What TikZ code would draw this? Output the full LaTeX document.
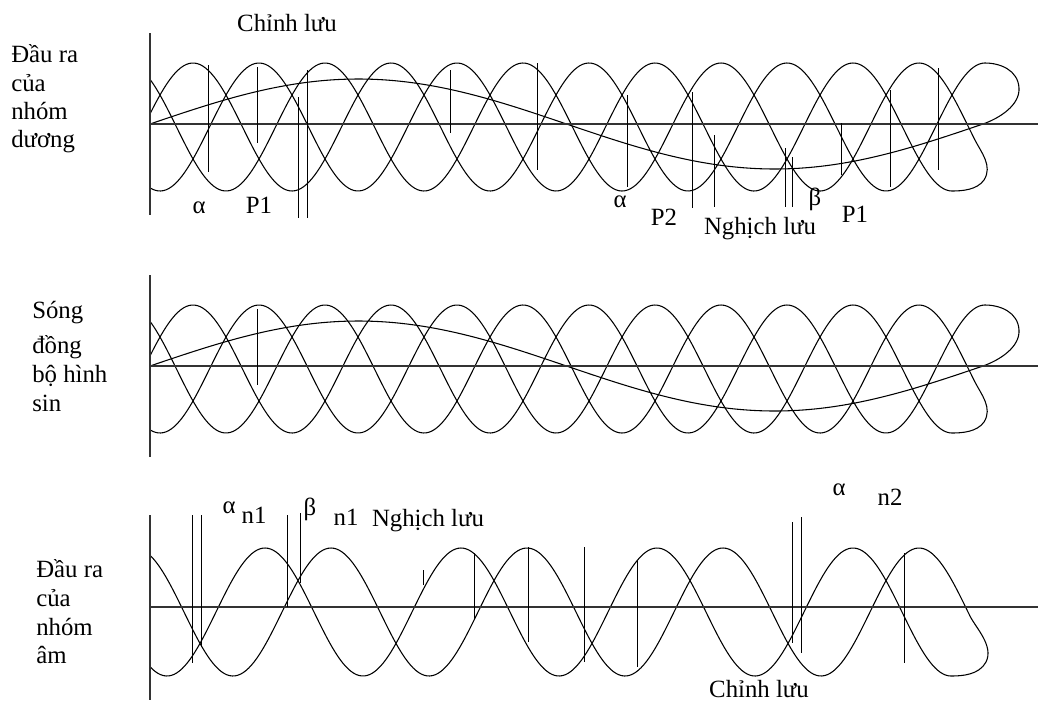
\documentclass[tikz,border=0pt]{standalone}
\usepackage{fontspec}
\setmainfont{Liberation Serif}
\begin{document}
\begin{tikzpicture}[x=0.75pt,y=-0.75pt,
  wave/.style={line width=0.8pt,black},
  axisline/.style={line width=0.9pt,black!80},
  marker/.style={line width=0.65pt,black},
  lbl/.style={anchor=base,inner sep=0pt,font=\fontsize{18.6}{21}\selectfont},
  side/.style={anchor=base west,inner sep=0pt,font=\fontsize{18.6}{21}\selectfont}]
\useasboundingbox (0,0) rectangle (1038,704);
\newcommand\threephase{%
  % slow sinusoid joined to phase A through the right-hand loop
  \draw[wave] plot[domain=150:983,samples=150] (\x,{124-45*sin(0.432173*(\x-150))})
     .. controls (1000,118) and (1020,105) .. (1019,88)
     .. controls (1018,70) and (1000,63) .. (985,63)
     -- plot[domain=985:150,samples=300] (\x,{127-64*cos(1.818182*(\x-193))});
  % phases C and B joined by the lower right loop
  \draw[wave] plot[domain=150:975,samples=300] (\x,{127-64*cos(1.818182*(\x-127))})
     .. controls (981,152) and (993,166) .. (984,180)
     .. controls (977,190) and (962,191) .. (952,191)
     -- plot[domain=952:150,samples=300] (\x,{127-64*cos(1.818182*(\x-259))});
  \draw[axisline] (150,124) -- (1038,124);
  \draw[axisline] (150,33) -- (150,215);
}
% ---------- top panel ----------
\threephase
\foreach \px/\ya/\yb in {208/65/172,257/67/143,298/97/218,307/70/218,450/70/133,537/63/170,
  627/95/187,692/92/208,714/135/207,785/148/207,792/157/207,841/123/175,890/90/187,938/68/170}
  \draw[marker] (\px,\ya) -- (\px,\yb);
\node[lbl] (cl1) at (287,31) {Chỉnh lưu};
\node[lbl] (a1) at (199,213) {α};
\node[lbl] (p1) at (259,213) {P1};
\node[lbl] (a2) at (620,207) {α};
\node[lbl] (p2) at (664,225) {P2};
\node[lbl] (nl1) at (760,234) {Nghịch lưu};
\node[lbl] (b1) at (815,205) {β};
\node[lbl] (p3) at (855,222) {P1};
\node[side] (t1) at (11,62) {Đầu ra};
\node[side] (t2) at (11,91) {của};
\node[side] (t3) at (11,119) {nhóm};
\node[side] (t4) at (11,147) {dương};
% ---------- middle panel ----------
\begin{scope}[shift={(0,242)}]
\threephase
\draw[marker] (257,67) -- (257,143);
\end{scope}
\node[side] (m1) at (32,318) {Sóng};
\node[side] (m2) at (32,353) {đồng};
\node[side] (m3) at (32,382) {bộ hình};
\node[side] (m4) at (32,411) {sin};
% ---------- bottom panel ----------
\draw[wave] plot[domain=150:970,samples=300] (\x,{612-64*cos(1.836735*(\x-331))})
   .. controls (976,628) and (994,646) .. (986,662)
   .. controls (979,675) and (962,676) .. (951,676)
   -- plot[domain=951:150,samples=300] (\x,{612-64*cos(1.836735*(\x-265))});
\draw[axisline] (150,607) -- (1038,607);
\draw[axisline] (150,515) -- (150,700);
\foreach \px/\ya/\yb in {192/515/663,201/515/647,287/515/607,300/513/583,423/570/585,474/553/620,
  528/547/642,584/547/662,637/560/667,792/522/643,801/517/653,904/553/663}
  \draw[marker] (\px,\ya) -- (\px,\yb);
\node[lbl] (a3) at (229,513) {α};
\node[lbl] (n1) at (254,523) {n1};
\node[lbl] (b2) at (310,515) {β};
\node[lbl] (n2) at (346,525) {n1};
\node[lbl] (nl2) at (428,526) {Nghịch lưu};
\node[lbl] (a4) at (839,495) {α};
\node[lbl] (n3) at (890,505) {n2};
\node[lbl] (cl2) at (759,697) {Chỉnh lưu};
\node[side] (u1) at (36,577) {Đầu ra};
\node[side] (u2) at (36,606) {của};
\node[side] (u3) at (36,635) {nhóm};
\node[side] (u4) at (36,663) {âm};
\end{tikzpicture}
\end{document}
